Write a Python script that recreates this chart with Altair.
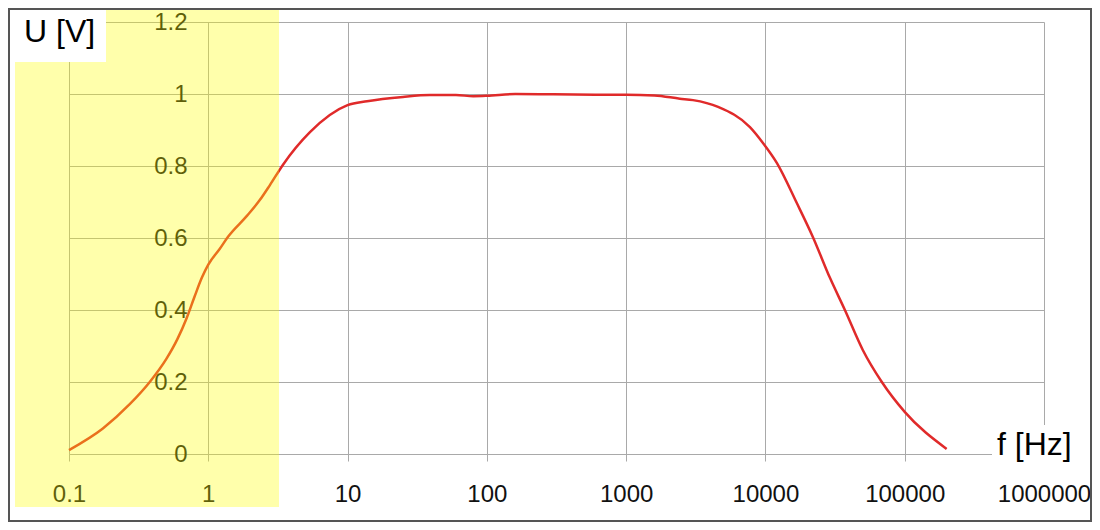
import altair as alt
import pandas as pd

# Frequency response
freq = [0.1, 0.175, 0.274, 0.38, 0.5, 0.6, 0.7, 0.8, 0.9, 1.0, 1.21, 1.39, 1.9,
        2.35, 2.77, 3.43, 5.37, 10, 13.8, 25, 39, 60, 80, 100, 160, 300, 600,
        1000, 1600, 2430, 3020, 4570, 7740, 9600, 12100, 16800, 21900, 29000,
        37200, 50000, 68500, 100000, 200000]
volt = [0.011, 0.071, 0.139, 0.2, 0.264, 0.319, 0.378, 0.439, 0.49, 0.526,
        0.57, 0.604, 0.662, 0.706, 0.747, 0.803, 0.894, 0.969, 0.98, 0.992,
        0.997, 0.997, 0.994, 0.995, 1.0, 0.999, 0.998, 0.998, 0.996, 0.987,
        0.983, 0.964, 0.908, 0.864, 0.808, 0.697, 0.603, 0.49, 0.4, 0.289,
        0.2, 0.117, 0.014]

x_ticks = [0.1, 1, 10, 100, 1000, 10000, 100000, 1000000]
y_ticks = [0, 0.2, 0.4, 0.6, 0.8, 1.0, 1.2]
y_title = "U [V]"
x_title = "f [Hz]"

df = pd.DataFrame({"f": freq, "U": volt})
one = pd.DataFrame({"k": [0]})

FONT = "Liberation Sans"
GRID = "#a9a9a9"

line = alt.Chart(df).mark_line(
    color="#e02a2a", strokeWidth=2.5, interpolate="monotone", clip=False
).encode(
    x=alt.X("f:Q",
            scale=alt.Scale(type="log", domain=[0.1, 1000000], nice=False),
            axis=alt.Axis(values=x_ticks, format="~f", grid=True,
                          gridColor=GRID, gridWidth=1, domainColor=GRID,
                          tickColor=GRID, tickSize=7, labelFont=FONT,
                          labelFontSize=24, labelColor="#111111",
                          labelPadding=21, labelFlush=False,
                          labelOverlap=False, title=None, zindex=0)),
    y=alt.Y("U:Q",
            scale=alt.Scale(domain=[0, 1.2], nice=False, zero=False),
            axis=alt.Axis(values=y_ticks, format="~g", grid=True,
                          gridColor=GRID, gridWidth=1, domainColor=GRID,
                          tickColor=GRID, tickSize=7, labelFont=FONT,
                          labelFontSize=24, labelColor="#111111",
                          labelPadding=14, offset=-139, labelFlush=False,
                          labelOverlap=False, title=None, zindex=0)),
)

yellow = alt.Chart(one).mark_rect(fill="#ffff00", opacity=0.33).encode(
    x=alt.value(-54), x2=alt.value(210), y=alt.value(-14), y2=alt.value(485)
)

ybox = alt.Chart(one).mark_rect(fill="white").encode(
    x=alt.value(-54), x2=alt.value(37), y=alt.value(-14), y2=alt.value(40)
)
ytext = alt.Chart(one).mark_text(
    text=y_title, font=FONT, fontSize=32, align="left", baseline="alphabetic",
    color="black"
).encode(x=alt.value(-45), y=alt.value(20))

xbox = alt.Chart(one).mark_rect(fill="white").encode(
    x=alt.value(923), x2=alt.value(1011), y=alt.value(403), y2=alt.value(448)
)
xtext = alt.Chart(one).mark_text(
    text=x_title, font=FONT, fontSize=32, align="left", baseline="alphabetic",
    color="black"
).encode(x=alt.value(928), y=alt.value(433))

border = alt.Chart(one).mark_rect(
    fillOpacity=0, stroke="#555555", strokeWidth=2
).encode(
    x=alt.value(-60), x2=alt.value(1022), y=alt.value(-13), y2=alt.value(499)
)

chart = alt.layer(line, yellow, ybox, ytext, xbox, xtext, border).properties(
    width=975, height=432,
    autosize=alt.AutoSizeParams(type="none"),
    padding={"left": 61, "top": 14, "right": 48, "bottom": 68},
    background="white",
).configure_view(stroke=None)

chart.save("out.html", embed_options={"renderer": "svg", "actions": False})
